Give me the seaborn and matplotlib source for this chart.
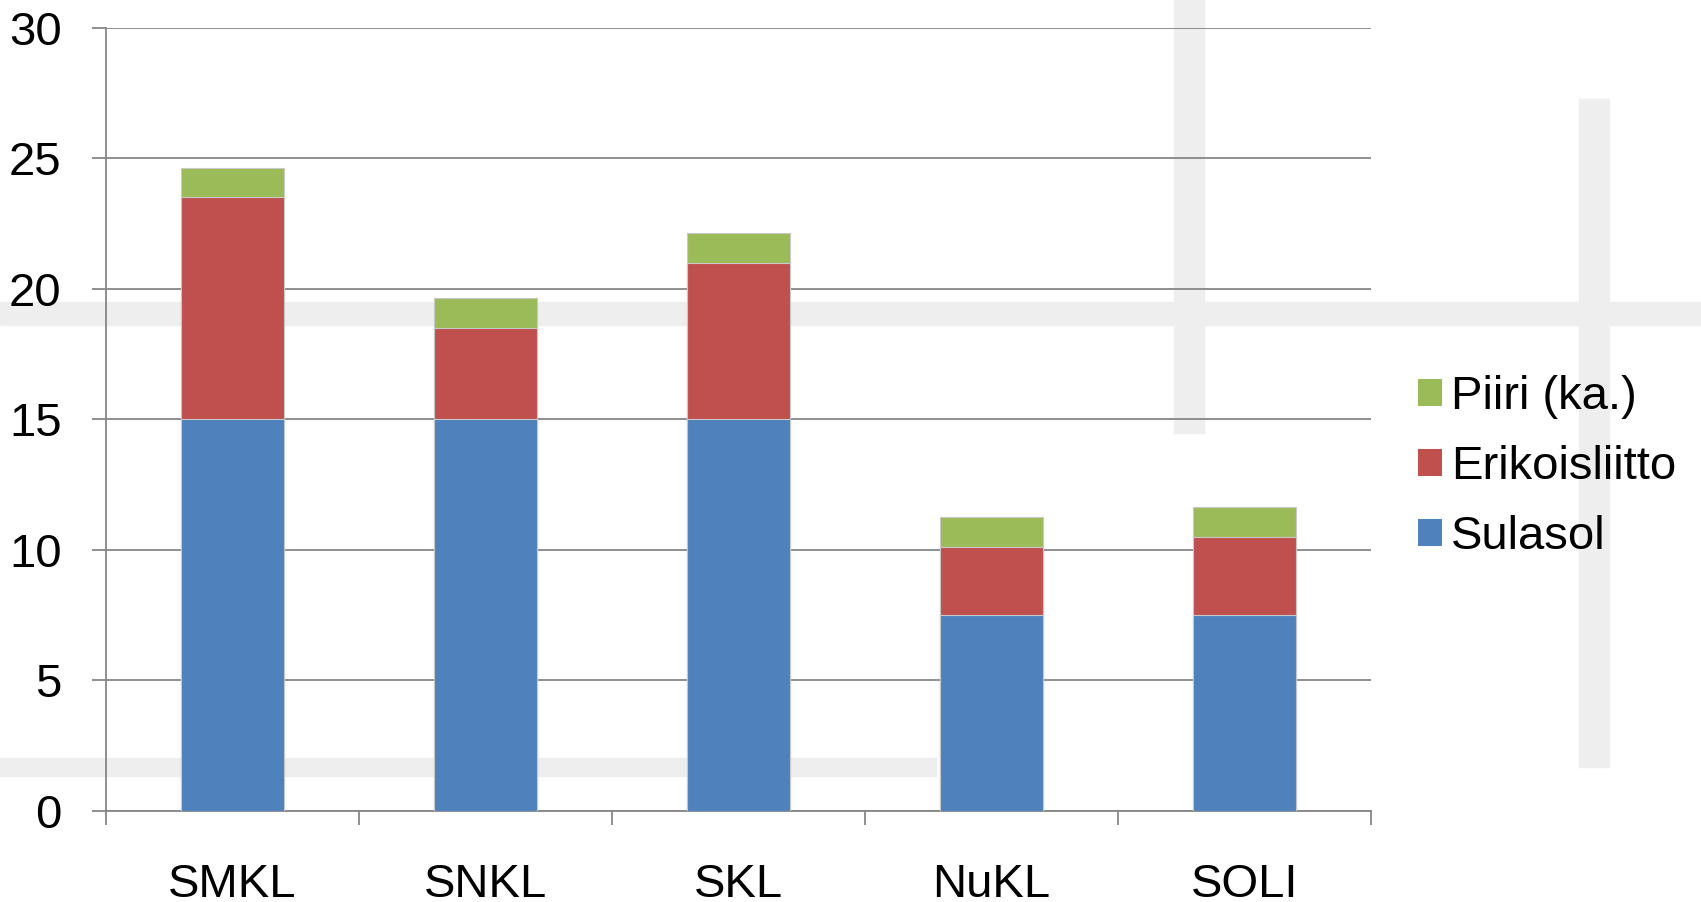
import matplotlib
matplotlib.use("Agg")
import matplotlib.pyplot as plt
import matplotlib.patches as mpatches
import seaborn as sns
import numpy as np

# data
categories = ['SMKL', 'SNKL', 'SKL', 'NuKL', 'SOLI']
sulasol = [15.0, 15.0, 15.0, 7.5, 7.5]
erikoisliitto = [8.5, 3.5, 6.0, 2.6, 3.0]
piiri = [1.13, 1.13, 1.13, 1.13, 1.13]
series_names = ['Piiri (ka.)', 'Erikoisliitto', 'Sulasol']
series_colors = ['#9BBB59', '#C0504D', '#4F81BD']
y_ticks = [0, 5, 10, 15, 20, 25, 30]

sns.set_style('white')
plt.rcParams['font.family'] = ['Liberation Sans', 'DejaVu Sans']
plt.rcParams['text.color'] = 'black'
plt.rcParams['xtick.color'] = 'black'
plt.rcParams['ytick.color'] = 'black'

fig = plt.figure(figsize=(17.01, 9.02), dpi=100)

# faint watermark bands behind the chart
wm = '#EEEEEE'
for (x0, y0, w, h) in [(0.0, 0.64, 1.0, 0.025), (0.69, 0.52, 0.018, 0.48),
                       (0.928, 0.15, 0.018, 0.74), (0.0, 0.14, 0.55, 0.02)]:
    fig.patches.append(mpatches.Rectangle((x0, y0), w, h, transform=fig.transFigure,
                                          color=wm, zorder=-5))

ax = fig.add_axes([0.0623, 0.1014, 0.7437, 0.8679])
ax.patch.set_alpha(0)

totals2 = np.array(sulasol) + np.array(erikoisliitto)
totals3 = totals2 + np.array(piiri)

for vals, col in zip([totals3, totals2, sulasol], series_colors):
    sns.barplot(x=categories, y=list(vals), color=col, width=0.41,
                edgecolor='#C8C8C8', linewidth=0.8, saturation=1, ax=ax, zorder=3)

ax.set_ylim(0, 30)
ax.set_xlim(-0.5, len(categories) - 0.5)
ax.set_yticks(y_ticks)
ax.yaxis.grid(True, color='#868686', linewidth=1.3, zorder=1)
ax.set_axisbelow(True)

for s in ['top', 'right']:
    ax.spines[s].set_visible(False)
for s in ['left', 'bottom']:
    ax.spines[s].set_color('#868686')
    ax.spines[s].set_linewidth(1.3)

ax.tick_params(axis='y', which='major', length=10, width=1.3, color='#868686',
               labelcolor='black', pad=22, labelsize=34, left=True)
ax.tick_params(axis='x', which='major', length=0, pad=38, labelsize=34,
               labelcolor='black')
ax.set_xticks(np.arange(-0.5, len(categories)), minor=True)
ax.tick_params(axis='x', which='minor', length=10, width=1.3, color='#868686', bottom=True)
ax.set_xlabel('')
ax.set_ylabel('')

handles = [mpatches.Patch(facecolor=c, edgecolor='none') for c in series_colors]
fig.legend(handles, series_names, loc='center left', bbox_to_anchor=(0.8225, 0.482),
           frameon=False, fontsize=34, handlelength=0.5, handleheight=0.5,
           handletextpad=0.2, labelspacing=0.55, borderaxespad=0)

fig.savefig('out.png', dpi=100)
